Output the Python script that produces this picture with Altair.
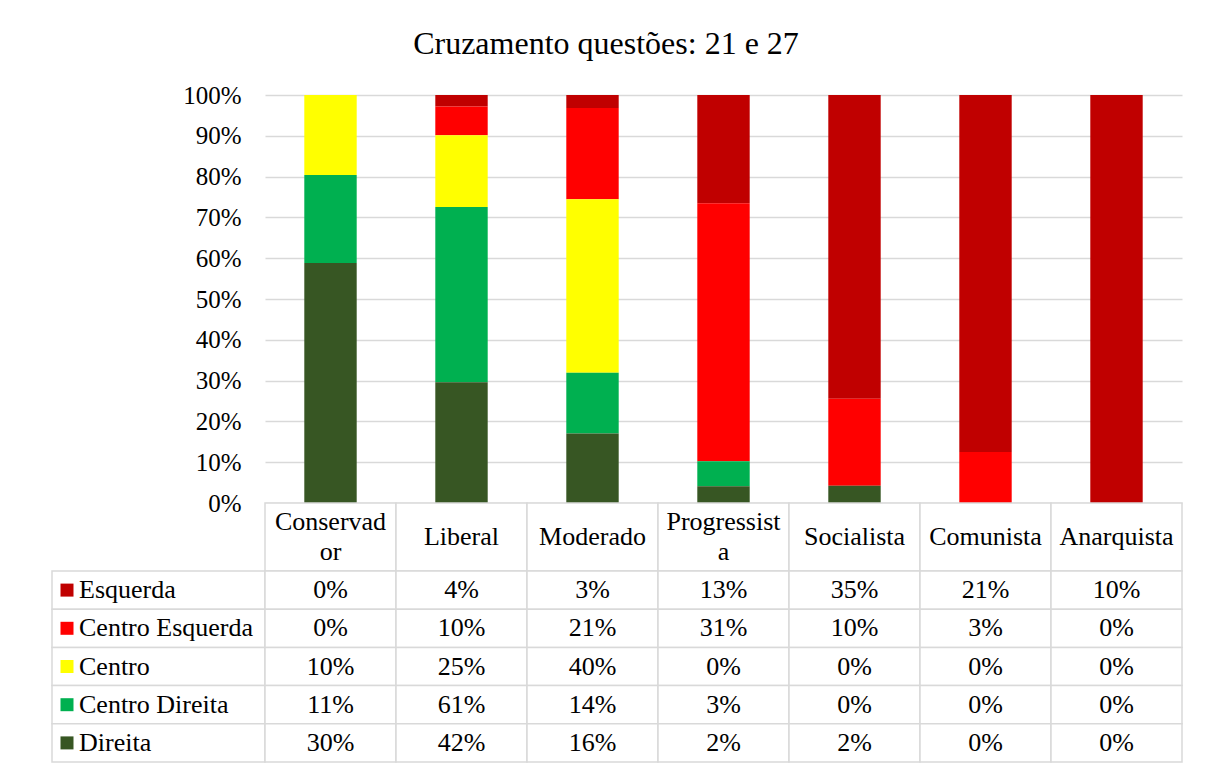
import altair as alt
import pandas as pd

FONT = "Liberation Serif"
GRID = "#d9d9d9"

CATEGORIES = ["Conservador", "Liberal", "Moderado", "Progressista", "Socialista", "Comunista", "Anarquista"]
HEADER_LABELS = ["Conservad\nor", "Liberal", "Moderado", "Progressist\na", "Socialista", "Comunista", "Anarquista"]
SERIES = ["Esquerda", "Centro Esquerda", "Centro", "Centro Direita", "Direita"]
COLORS = ["#C00000", "#FF0000", "#FFFF00", "#00B050", "#375623"]

ESQUERDA = [0, 4, 3, 13, 35, 21, 10]
CENTRO_ESQUERDA = [0, 10, 21, 31, 10, 3, 0]
CENTRO = [10, 25, 40, 0, 0, 0, 0]
CENTRO_DIREITA = [11, 61, 14, 3, 0, 0, 0]
DIREITA = [30, 42, 16, 2, 2, 0, 0]

Y_TICKS = [0, 0.1, 0.2, 0.3, 0.4, 0.5, 0.6, 0.7, 0.8, 0.9, 1.0]
TITLE = "Cruzamento questões: 21 e 27"

values_by_series = [ESQUERDA, CENTRO_ESQUERDA, CENTRO, CENTRO_DIREITA, DIREITA]
rows = []
for s_idx, (name, vals) in enumerate(zip(SERIES, values_by_series)):
    for cat, v in zip(CATEGORIES, vals):
        rows.append({"category": cat, "series": name, "value": v,
                     "rank": len(SERIES) - 1 - s_idx, "label": f"{v}%"})
df = pd.DataFrame(rows)
hdr_df = pd.DataFrame({"category": CATEGORIES, "header": HEADER_LABELS})
ser_df = pd.DataFrame({"series": SERIES})

color_scale = alt.Scale(domain=SERIES, range=COLORS)

W = 917
bars = alt.Chart(df).mark_bar().encode(
    x=alt.X("category:N", sort=CATEGORIES,
            scale=alt.Scale(paddingInner=0.6, paddingOuter=0.3), axis=None),
    y=alt.Y("value:Q", stack="normalize",
            scale=alt.Scale(domain=[0, 1], nice=False),
            axis=alt.Axis(values=Y_TICKS, format=".0%", title=None, ticks=False,
                          domain=False, labelPadding=24, labelFontSize=25,
                          labelFont=FONT, labelColor="black",
                          gridColor=GRID, gridWidth=1.3)),
    color=alt.Color("series:N", scale=color_scale, legend=None),
    order=alt.Order("rank:Q", sort="ascending"),
).properties(width=W, height=408)

hx = alt.X("category:N", sort=CATEGORIES,
           scale=alt.Scale(paddingInner=0, paddingOuter=0), axis=None)

header = alt.layer(
    alt.Chart(hdr_df).mark_rect(fill="white", stroke=GRID, strokeWidth=1.5).encode(x=hx),
    alt.Chart(hdr_df).transform_filter("indexof(datum.header, '\\n') < 0").mark_text(
        font=FONT, fontSize=26, baseline="middle", color="black"
    ).encode(x=hx, text="header:N"),
    alt.Chart(hdr_df).transform_filter("indexof(datum.header, '\\n') >= 0").mark_text(
        font=FONT, fontSize=26, lineBreak="\n", lineHeight=30, dy=-15,
        baseline="middle", color="black"
    ).encode(x=hx, text="header:N"),
).properties(width=W, height=68)

ty = alt.Y("series:N", sort=SERIES,
           scale=alt.Scale(paddingInner=0, paddingOuter=0), axis=None)

table = alt.layer(
    alt.Chart(ser_df).mark_rect(fill="white", stroke=GRID, strokeWidth=1.5).encode(
        x=alt.value(-213), x2=alt.value(0), y=ty),
    alt.Chart(df).mark_rect(fill="white", stroke=GRID, strokeWidth=1.5).encode(x=hx, y=ty),
    alt.Chart(df).mark_text(font=FONT, fontSize=26, baseline="middle", color="black").encode(
        x=hx, y=ty, text="label:N"),
    alt.Chart(ser_df).mark_square(size=169, opacity=1, filled=True).encode(
        x=alt.value(-198), y=ty,
        color=alt.Color("series:N", scale=color_scale, legend=None)),
    alt.Chart(ser_df).mark_text(font=FONT, fontSize=26, baseline="middle", align="left",
                                color="black").encode(
        x=alt.value(-186), y=ty, text="series:N"),
).properties(width=W, height=191)

chart = alt.vconcat(bars, header, table, spacing=0).resolve_scale(
    x="independent", y="independent"
).properties(
    title=alt.Title(TITLE, font=FONT, fontSize=32, fontWeight="normal", color="black",
                    anchor="middle", offset=22, dx=-11),
    padding={"left": 43, "top": 20, "right": 20, "bottom": 0},
    bounds="flush",
).configure_view(stroke=None)

chart.save("out.html", embed_options={"renderer": "svg", "actions": False})
